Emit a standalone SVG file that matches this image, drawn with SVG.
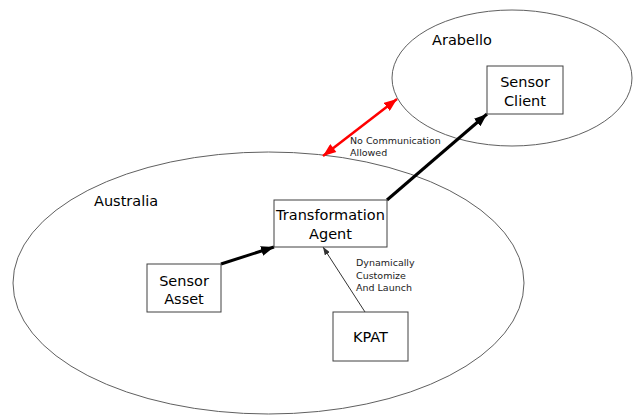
<svg xmlns="http://www.w3.org/2000/svg" width="633" height="418" viewBox="0 0 633 418">
<defs>
<style>
.region{fill:none;stroke:#606060;stroke-width:1}
.box{fill:#fff;stroke:#404040;stroke-width:1}
.t{font-family:"DejaVu Sans",Verdana,sans-serif;fill:#000}
.lbl{font-family:"DejaVu Sans",Verdana,sans-serif;fill:#222;font-size:9.5px}
.thick{stroke:#000;stroke-width:3;fill:none}
.thin{stroke:#333;stroke-width:1;fill:none}
</style>
<marker id="ah" markerUnits="userSpaceOnUse" markerWidth="14" markerHeight="10" refX="13" refY="5" orient="auto"><path d="M0,0 L13,5 L0,10 Z" fill="#000"/></marker>
<marker id="ahs" markerUnits="userSpaceOnUse" markerWidth="9" markerHeight="6" refX="8" refY="3" orient="auto"><path d="M0,0 L8,3 L0,6 Z" fill="#333"/></marker>
<marker id="ahr" markerUnits="userSpaceOnUse" markerWidth="14" markerHeight="10" refX="13" refY="5" orient="auto"><path d="M0,0 L13,5 L0,10 Z" fill="#f00"/></marker>
<marker id="ahr0" markerUnits="userSpaceOnUse" markerWidth="14" markerHeight="10" refX="0" refY="5" orient="auto"><path d="M13,0 L0,5 L13,10 Z" fill="#f00"/></marker>
</defs>
<rect width="633" height="418" fill="#fff"/>
<g id="australia">
<ellipse class="region" cx="268.5" cy="283" rx="255.5" ry="131"/>
<text class="t" x="94" y="206" font-size="14.5">Australia</text>
</g>
<g id="arabello">
<ellipse class="region" cx="512" cy="78" rx="120" ry="68"/>
<text class="t" x="432" y="45" font-size="14.5">Arabello</text>
</g>
<g id="connectors">
<line class="thick" x1="221" y1="264" x2="274" y2="247" marker-end="url(#ah)"/>
<line class="thick" x1="387" y1="200" x2="487" y2="114" stroke-width="2.5" marker-end="url(#ah)"/>
<line class="thin" x1="365" y1="312" x2="323" y2="247" marker-end="url(#ahs)"/>
<line x1="323" y1="156" x2="397" y2="99" stroke="#f00" stroke-width="2.5" marker-start="url(#ahr0)" marker-end="url(#ahr)"/>
<text class="lbl" x="350" y="144">No Communication</text>
<text class="lbl" x="350" y="156">Allowed</text>
<text class="lbl" x="356" y="266">Dynamically</text>
<text class="lbl" x="356" y="279">Customize</text>
<text class="lbl" x="356" y="291">And Launch</text>
</g>
<g id="sensor-client">
<rect class="box" x="487" y="66" width="76" height="48"/>
<text class="t" x="525" y="87" font-size="14.5" text-anchor="middle">Sensor</text>
<text class="t" x="525" y="106" font-size="14.5" text-anchor="middle">Client</text>
</g>
<g id="transformation-agent">
<rect class="box" x="274" y="200" width="113" height="47"/>
<text class="t" x="330.5" y="220" font-size="14.5" text-anchor="middle">Transformation</text>
<text class="t" x="330.5" y="239" font-size="14.5" text-anchor="middle">Agent</text>
</g>
<g id="sensor-asset">
<rect class="box" x="147" y="264" width="74" height="48"/>
<text class="t" x="184" y="286" font-size="14.5" text-anchor="middle">Sensor</text>
<text class="t" x="184" y="304" font-size="14.5" text-anchor="middle">Asset</text>
</g>
<g id="kpat">
<rect class="box" x="333" y="312" width="75" height="49"/>
<text class="t" x="370.5" y="342" font-size="14.5" text-anchor="middle">KPAT</text>
</g>
</svg>
